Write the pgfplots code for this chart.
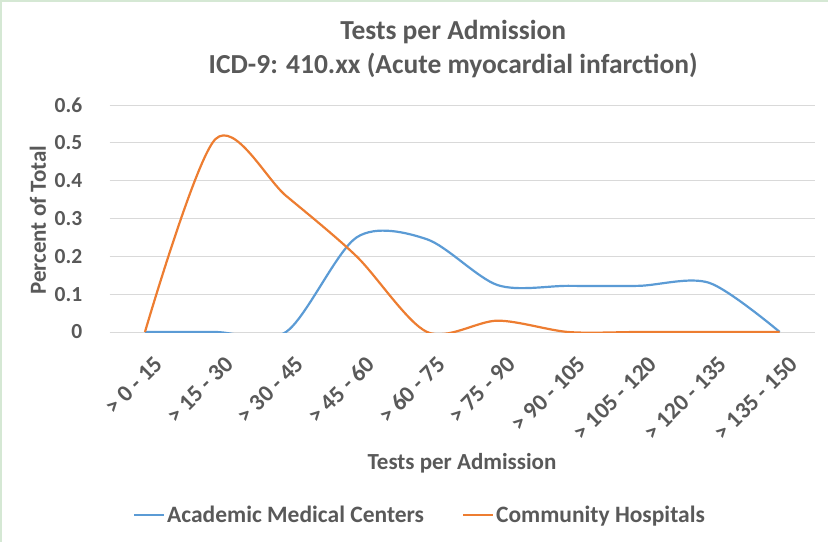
\documentclass[border=0pt]{standalone}
\usepackage{pgfplots}
\pgfplotsset{compat=1.18}
\usepackage{fontspec}
\setmainfont{Carlito}
\definecolor{txt}{HTML}{595959}
\definecolor{grd}{HTML}{D9D9D9}
\definecolor{blu}{HTML}{5B9BD5}
\definecolor{org}{HTML}{ED7D31}
\definecolor{frm}{HTML}{D5E8D4}
\begin{document}
\begin{tikzpicture}
\path[use as bounding box] (-109.7bp,-210bp) rectangle ++(828bp,542bp);
\draw[frm, line width=2bp] (-108.7bp,-210bp) -- (-108.7bp,331bp) -- (718.3bp,331bp);
\begin{axis}[
  scale only axis,
  width=705.3bp, height=227bp,
  xmin=-0.5, xmax=9.5, ymin=0, ymax=0.6,
  xtick={0,...,9},
  xticklabels={{> 0 - 15},{> 15 - 30},{> 30 - 45},{> 45 - 60},{> 60 - 75},{> 75 - 90},{> 90 - 105},{> 105 - 120},{> 120 - 135},{> 135 - 150}},
  ytick={0,0.1,...,0.6},
  yticklabels={0,0.1,0.2,0.3,0.4,0.5,0.6},
  major tick length=0pt,
  axis line style={draw=none},
  ymajorgrids, grid style={grd, line width=0.8bp},
  font=\bfseries\fontsize{23bp}{27bp}\selectfont,
  ticklabel style={txt, font=\bfseries\fontsize{21.5bp}{25bp}\selectfont},
  /pgf/number format/assume math mode=true,
  yticklabel style={anchor=east, xshift=-24bp},
  xticklabel style={rotate=45, anchor=east, xshift=-7bp, yshift=-30bp, font=\bfseries\fontsize{23.5bp}{27bp}\selectfont},
  xlabel={Tests per Admission},
  xlabel style={txt, at={(rel axis cs:0.4995,-0.577)}, anchor=center},
  ylabel={Percent of Total},
  ylabel style={txt, at={(rel axis cs:-0.1017,0.493)}, anchor=center},
  title={Tests per Admission\\ICD-9: 410.xx (Acute myocardial infarction)},
  title style={txt, align=center, at={(rel axis cs:0.487,1.22)}, anchor=center, font=\bfseries\fontsize{27.5bp}{34bp}\selectfont},
  legend columns=2,
  legend style={draw=none, fill=none, at={(rel axis cs:0.44,-0.805)}, anchor=center, font=\bfseries\fontsize{23.5bp}{27bp}\selectfont, text=txt, inner sep=0pt, /tikz/every even column/.append style={column sep=36bp}},
  legend image code/.code={\draw[#1, line width=2bp] (0bp,0bp) -- (30bp,0bp);},
]
\addplot[blu, line width=2.2bp, smooth, tension=0.5] coordinates {
(0,0) (1,0) (2,0) (3,0.25) (4,0.245) (5,0.124) (6,0.122) (7,0.122) (8,0.13) (9,0)};
\addlegendentry{Academic Medical Centers}
\addplot[org, line width=2.2bp, smooth, tension=0.5] coordinates {
(0,0) (1,0.51) (2,0.36) (3,0.2) (4,0) (5,0.03) (6,0) (7,0) (8,0) (9,0)};
\addlegendentry{Community Hospitals}
\end{axis}
\end{tikzpicture}
\end{document}
